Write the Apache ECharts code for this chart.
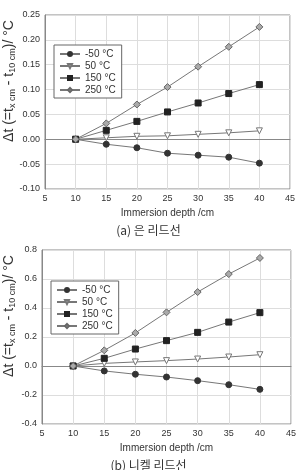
<!DOCTYPE html>
<html>
<head>
<meta charset="utf-8">
<script src="https://cdn.jsdelivr.net/npm/echarts@6/dist/echarts.min.js"></script>
<style>
  html, body { margin: 0; padding: 0; background: #fff; }
  #chart { width: 297px; height: 470px; }
</style>
</head>
<body>
<div id="chart"></div>
<script>
// immersion depth (cm)
const depth = [10, 15, 20, 25, 30, 35, 40]
const seriesNames = ['-50 °C', '50 °C', '150 °C', '250 °C']

// (a) silver lead wire
const silverM50 = [0, -0.010, -0.017, -0.028, -0.032, -0.036, -0.048]
const silver50 = [0, 0.003, 0.006, 0.007, 0.010, 0.013, 0.017]
const silver150 = [0, 0.018, 0.036, 0.055, 0.073, 0.092, 0.110]
const silver250 = [0, 0.032, 0.070, 0.105, 0.146, 0.186, 0.226]

// (b) nickel lead wire
const nickelM50 = [0, -0.034, -0.057, -0.076, -0.101, -0.129, -0.161]
const nickel50 = [0, 0.018, 0.028, 0.037, 0.048, 0.062, 0.078]
const nickel150 = [0, 0.053, 0.117, 0.175, 0.232, 0.303, 0.368]
const nickel250 = [0, 0.108, 0.228, 0.370, 0.510, 0.634, 0.745]

const xTicks = { min: 5, max: 45, interval: 5 }
const yTicksA = { min: -0.10, max: 0.25, interval: 0.05 }
const yTicksB = { min: -0.4, max: 0.8, interval: 0.2 }

const font = 'Liberation Sans, Arial, sans-serif'
const markers = [
  { symbol: 'circle', size: 6, color: '#333', border: '#333' },
  { symbol: 'triangle', size: 6, color: '#fff', border: '#777', rotate: 180 },
  { symbol: 'rect', size: 6, color: '#222', border: '#222' },
  { symbol: 'diamond', size: 7, color: '#aaa', border: '#666' }
]

function pairs(vals) {
  return depth.map((d, i) => [d, vals[i]])
}

function makeSeries(sets, idx) {
  return sets.map((vals, i) => ({
    name: seriesNames[i],
    type: 'line',
    xAxisIndex: idx,
    yAxisIndex: idx,
    data: pairs(vals),
    symbol: markers[i].symbol,
    symbolSize: markers[i].size,
    symbolRotate: markers[i].rotate || 0,
    lineStyle: { color: '#777', width: 1 },
    itemStyle: { color: markers[i].color, borderColor: markers[i].border, borderWidth: 1 },
    emphasis: { disabled: true }
  }))
}

function xAxis(idx) {
  return {
    type: 'value', gridIndex: idx,
    min: xTicks.min, max: xTicks.max, interval: xTicks.interval,
    name: 'Immersion depth /cm', nameLocation: 'middle', nameGap: 19,
    nameTextStyle: { fontFamily: font, fontSize: 10, color: '#333' },
    axisLine: { lineStyle: { color: '#888' } },
    axisTick: { show: false },
    axisLabel: { fontFamily: font, fontSize: 9, color: '#333', margin: 5 },
    splitLine: { lineStyle: { color: '#ddd' } }
  }
}

function yAxis(idx, t, digits) {
  return {
    type: 'value', gridIndex: idx,
    min: t.min, max: t.max, interval: t.interval,
    name: 'Δt (=t{sub|x cm} - t{sub|10 cm})/ °C',
    nameLocation: 'middle', nameGap: 28 - idx * 3, nameRotate: 90,
    nameMoveOverlap: false,
    nameTextStyle: {
      fontFamily: font, fontSize: 14, color: '#333',
      padding: [0, 0, 0, 42],
      rich: { sub: { fontFamily: font, fontSize: 9, color: '#333', padding: [7, 0, 0, 0] } }
    },
    axisLine: { show: true, lineStyle: { color: '#888' } },
    axisTick: { show: false },
    axisLabel: {
      fontFamily: font, fontSize: 9, color: '#333', margin: 5,
      formatter: v => v.toFixed(digits)
    },
    splitLine: { lineStyle: { color: '#ddd' } }
  }
}

function legend(idx, left, top) {
  return {
    data: seriesNames,
    orient: 'vertical', left: left, top: top,
    itemWidth: 20, itemHeight: 5, itemGap: 2,
    padding: [4, 6, 3, 5],
    borderColor: '#666', borderWidth: 1,
    backgroundColor: '#fff',
    textStyle: { fontFamily: font, fontSize: 10, color: '#333' },
    selectedMode: false
  }
}

const chart = echarts.init(document.getElementById('chart'), null, { renderer: 'canvas' })
chart.setOption({
  animation: false,
  backgroundColor: '#fff',
  title: [
    { text: '(a) 은 리드선', left: 'center', top: 219,
      textStyle: { fontFamily: 'Noto Sans CJK KR', fontSize: 12, fontWeight: 'normal', color: '#333' } },
    { text: '(b) 니켈 리드선', left: 'center', top: 454,
      textStyle: { fontFamily: 'Noto Sans CJK KR', fontSize: 12, fontWeight: 'normal', color: '#333' } }
  ],
  grid: [
    { left: 45, right: 7, top: 15, height: 174, show: true, borderColor: '#888', backgroundColor: '#fff', outerBoundsMode: 'none' },
    { left: 42, right: 6, top: 250, height: 174, show: true, borderColor: '#888', backgroundColor: '#fff', outerBoundsMode: 'none' }
  ],
  legend: [legend(0, 54, 45), legend(1, 51, 281)],
  xAxis: [xAxis(0), xAxis(1)],
  yAxis: [yAxis(0, yTicksA, 2), yAxis(1, yTicksB, 1)],
  series: makeSeries([silverM50, silver50, silver150, silver250], 0)
    .concat(makeSeries([nickelM50, nickel50, nickel150, nickel250], 1))
})
</script>
</body>
</html>
